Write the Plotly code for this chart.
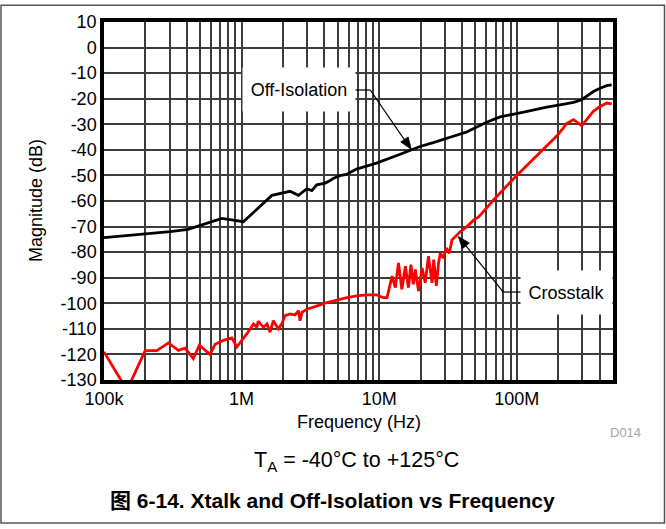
import math
import plotly.graph_objects as go

# ---------------- data ----------------
# Off-Isolation: frequency in MHz, magnitude in dB
offiso_freq_mhz = [0.1, 0.199, 0.302, 0.408, 0.718, 1.03, 1.48, 1.66, 2.25, 2.59, 2.98,
                   3.24, 3.52, 4.05, 4.40, 4.62, 5.18, 5.78, 6.84, 8.09, 9.55, 14.2,
                   19.8, 24.7, 43.2, 60.3, 75.5, 99.7, 132, 165, 206, 258, 296, 322,
                   360, 403, 450, 489]
offiso_db = [-74.3, -72.9, -72.0, -71.1, -66.8, -68.1, -60.4, -57.8, -56.2, -57.8, -55.2,
             -55.9, -53.7, -53.0, -52.0, -51.2, -50.1, -49.6, -47.5, -46.2, -45.2, -41.7,
             -38.7, -37.2, -33.0, -29.2, -27.1, -25.8, -24.3, -23.3, -22.4, -21.4, -20.4,
             -19.1, -17.2, -15.9, -14.9, -14.6]

# Crosstalk: frequency in MHz, magnitude in dB
xtalk_freq_mhz = [0.1, 0.147, 0.199, 0.242, 0.294, 0.347, 0.388, 0.446, 0.493, 0.590,
                  0.642, 0.738, 0.849, 0.923, 1.09, 1.22, 1.29, 1.32, 1.44, 1.53, 1.61,
                  1.70, 1.85, 1.96, 2.07, 2.25, 2.45, 2.59, 2.66, 2.75, 2.98, 3.33, 3.72,
                  4.17, 4.92, 5.82, 6.88, 8.14, 9.62, 10.7, 11.4, 12.4, 13.1, 13.8, 14.6,
                  15.5, 16.3, 17.0, 17.7, 18.3, 19.3, 20.5, 21.6, 22.8, 24.2, 24.9, 26.0,
                  27.0, 27.8, 29.2, 30.7, 32.3, 33.8, 35.7, 38.8, 43.4, 48.5, 52.8, 67.5,
                  99.7, 132, 165, 195, 218, 230, 258, 280, 296, 322, 360, 403, 450, 489]
xtalk_db = [-119.0, -134.0, -118.5, -118.5, -115.5, -118.4, -117.5, -121.6, -116.4, -120.0,
            -116.0, -114.5, -113.5, -117.1, -112.0, -108.1, -109.4, -107.0, -109.4, -108.1,
            -111.3, -106.8, -110.0, -108.0, -104.8, -104.2, -104.5, -102.9, -106.8, -103.5,
            -102.3, -101.6, -100.6, -99.7, -98.7, -97.8, -97.1, -96.7, -96.7, -97.8, -97.8,
            -89.4, -93.9, -84.2, -94.5, -85.5, -93.9, -84.9, -92.6, -86.8, -95.2, -86.2,
            -92.0, -81.6, -92.0, -82.9, -93.2, -84.2, -80.4, -82.3, -78.4, -80.4, -75.2,
            -73.9, -72.0, -70.0, -67.5, -66.2, -59.7, -50.0, -43.6, -38.5, -34.6, -31.4,
            -29.7, -28.2, -29.7, -30.5, -28.2, -24.9, -23.0, -21.7, -22.0]

# axis ticks
x_grid_hz = [m * 10 ** e for e in range(5, 9) for m in range(1, 10) if m * 10 ** e <= 5e8]
x_label_map = {1e5: "100k", 1e6: "1M", 1e7: "10M", 1e8: "100M"}
y_ticks = list(range(-130, 11, 10))

X_RANGE_HZ = [1e5, 5e8]
Y_RANGE = [-130, 10]

FONT = "Arial, 'Liberation Sans', 'Noto Sans CJK SC', sans-serif"

offiso_hz = [f * 1e6 for f in offiso_freq_mhz]
xtalk_hz = [f * 1e6 for f in xtalk_freq_mhz]

fig = go.Figure()
fig.add_trace(go.Scatter(x=offiso_hz, y=offiso_db, mode="lines", name="Off-Isolation",
                         line=dict(color="#000000", width=2.8), showlegend=False))
fig.add_trace(go.Scatter(x=xtalk_hz, y=xtalk_db, mode="lines", name="Crosstalk",
                         line=dict(color="#ff0000", width=2.8), showlegend=False))

fig.update_layout(
    width=666, height=529,
    margin=dict(l=104, r=53, t=18, b=149),
    paper_bgcolor="white", plot_bgcolor="white",
    font=dict(family=FONT, size=18, color="#000000"),
)

fig.update_xaxes(
    type="log", range=[math.log10(X_RANGE_HZ[0]), math.log10(X_RANGE_HZ[1])],
    tickmode="array", tickvals=x_grid_hz,
    ticktext=[x_label_map.get(float(v), "") for v in x_grid_hz],
    showgrid=True, gridcolor="#3c3c3c", gridwidth=1.6,
    showline=True, linecolor="#000000", linewidth=3.5, mirror=True,
    ticks="", zeroline=False, tickfont=dict(size=18, color="#000000"),
)
fig.update_yaxes(
    range=Y_RANGE, tickmode="array", tickvals=y_ticks,
    ticktext=[str(v) for v in y_ticks],
    showgrid=True, gridcolor="#3c3c3c", gridwidth=1.6,
    showline=True, linecolor="#000000", linewidth=3.5, mirror=True,
    ticks="", zeroline=False, tickfont=dict(size=18, color="#000000"),
)

# label boxes (white background hides grid); annotation x on a log axis is log10
fig.add_annotation(x=6.418, y=-16.5, xref="x", yref="y", text="Off-Isolation",
                   showarrow=False, bgcolor="white", width=112, height=43,
                   borderpad=0, font=dict(size=18))
fig.add_annotation(x=8.364, y=-95.8, xref="x", yref="y", text="Crosstalk",
                   showarrow=False, bgcolor="white", width=91, height=43,
                   borderpad=0, font=dict(size=18))

# leader lines (horizontal part, diagonal part) and filled arrow heads; shape x in Hz
def hz(lg):
    return 10 ** lg

LEAD = dict(color="#000000", width=1.2)
fig.add_shape(type="line", xref="x", yref="y", x0=hz(6.825), y0=-16.6, x1=hz(6.935), y1=-16.6, line=LEAD)
fig.add_shape(type="line", xref="x", yref="y", x0=hz(6.935), y0=-16.6, x1=hz(7.225), y1=-39.3, line=LEAD)
fig.add_shape(type="path", xref="x", yref="y", xsizemode="pixel", ysizemode="pixel",
              xanchor=hz(7.233), yanchor=-39.8, path="M0,0 L-10.5,7.4 L-3.1,12.4 Z",
              fillcolor="#000000", line=dict(color="#000000", width=0.8))

fig.add_shape(type="line", xref="x", yref="y", x0=hz(7.902), y0=-95.6, x1=hz(8.033), y1=-95.6, line=LEAD)
fig.add_shape(type="line", xref="x", yref="y", x0=hz(7.902), y0=-95.6, x1=hz(7.585), y1=-74.5, line=LEAD)
fig.add_shape(type="path", xref="x", yref="y", xsizemode="pixel", ysizemode="pixel",
              xanchor=hz(7.575), yanchor=-73.9, path="M0,0 L11.0,-6.5 L4.0,-12.2 Z",
              fillcolor="#000000", line=dict(color="#000000", width=0.8))

# helper for paper coordinates from pixel positions in the figure
PW, PH = 666 - 104 - 53, 529 - 18 - 149
def px(xp):
    return (xp - 104) / PW
def py(yp):
    return (380 - yp) / PH

# axis titles and notes
fig.add_annotation(x=px(359), y=py(422), xref="paper", yref="paper", text="Frequency (Hz)",
                   showarrow=False, font=dict(size=18), xanchor="center", yanchor="middle")
fig.add_annotation(x=px(36), y=py(199), xref="paper", yref="paper", text="Magnitude (dB)",
                   showarrow=False, textangle=-90, font=dict(size=18),
                   xanchor="center", yanchor="middle")
fig.add_annotation(x=px(625), y=py(433), xref="paper", yref="paper", text="D014",
                   showarrow=False, font=dict(size=13, color="#a6a6a6"),
                   xanchor="center", yanchor="middle")
fig.add_annotation(x=px(356), y=py(462), xref="paper", yref="paper",
                   text="T<sub>A</sub> = -40°C to +125°C",
                   showarrow=False, font=dict(size=21.5), xanchor="center", yanchor="middle")
fig.add_annotation(x=px(332), y=py(502), xref="paper", yref="paper",
                   text="<b>图 6-14. Xtalk and Off-Isolation vs Frequency</b>",
                   showarrow=False, font=dict(size=21), xanchor="center", yanchor="middle")

# outer frame
fig.add_shape(type="rect", xref="paper", yref="paper",
              x0=px(1), x1=px(664.5), y0=py(524.5), y1=py(1),
              line=dict(color="#555555", width=1.5), layer="above")

fig.write_html("out.html", config={"displayModeBar": False},
               post_script="document.body.style.margin='0';")
